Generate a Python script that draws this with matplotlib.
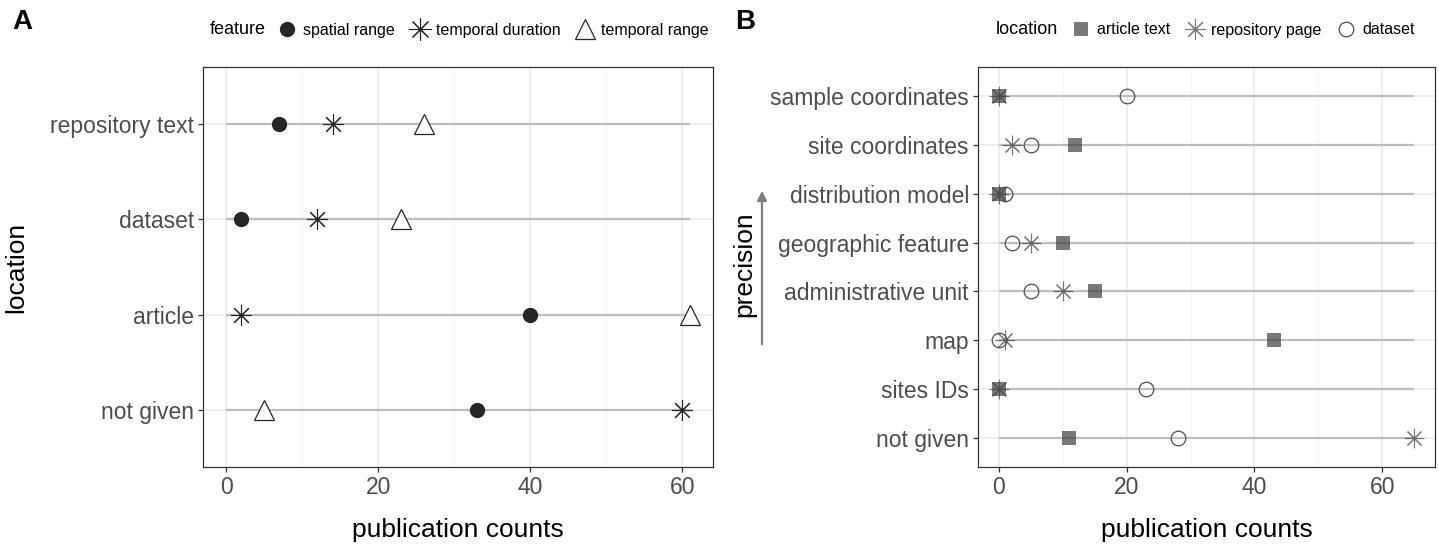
import numpy as np
import matplotlib.pyplot as plt
from matplotlib.lines import Line2D
from matplotlib.patches import FancyArrowPatch

plt.rcParams['font.family'] = ['Liberation Sans', 'DejaVu Sans']

# panel A data
a_locations = ['not given', 'article', 'dataset', 'repository text']
a_spatial_range = [33, 40, 2, 7]
a_temporal_duration = [60, 2, 12, 14]
a_temporal_range = [5, 61, 23, 26]

# panel B data
b_precision = ['not given', 'sites IDs', 'map', 'administrative unit',
               'geographic feature', 'distribution model',
               'site coordinates', 'sample coordinates']
b_article_text = [11, 0, 43, 15, 10, 0, 12, 0]
b_repository_page = [65, 0, 1, 10, 5, 0, 2, 0]
b_dataset = [28, 23, 0, 5, 2, 1, 5, 20]

W, H = 1439, 546
fig = plt.figure(figsize=(W / 100, H / 100), dpi=100)

def px_axes(l, r, t, b):
    return fig.add_axes([l / W, 1 - b / H, (r - l) / W, (b - t) / H])

star = (8, 2, 0)
tick_col = '#4d4d4d'

def style(ax, ncat, xmax):
    ax.set_xlim(-0.05 * xmax, 1.05 * xmax)
    ax.set_ylim(0.4, ncat + 0.6)
    ax.set_xticks([0, 20, 40, 60])
    ax.set_xticks([10, 30, 50], minor=True)
    ax.grid(which='major', color='#ebebeb', lw=1.1, zorder=0)
    ax.grid(which='minor', axis='x', color='#f2f2f2', lw=0.6, zorder=0)
    ax.set_axisbelow(True)
    for s in ax.spines.values():
        s.set_color('#333333')
        s.set_linewidth(0.9)
    ax.tick_params(axis='both', which='major', length=3.5, width=0.9, color='#333333',
                   labelsize=16.5, labelcolor=tick_col, pad=3)
    ax.tick_params(axis='x', which='minor', length=0)
    ax.set_xlabel('publication counts', fontsize=19, labelpad=14)

# ---- panel A
axA = px_axes(203, 713, 67, 467)
ya = np.arange(1, len(a_locations) + 1)
amax = max(a_spatial_range + a_temporal_duration + a_temporal_range)
axA.hlines(ya, 0, amax, color='#bebebe', lw=1.6, zorder=1)
axA.plot(a_spatial_range, ya, 'o', ms=10, color='#262626', mec='#262626', ls='none', zorder=3)
axA.plot(a_temporal_duration, ya, marker=star, ms=15, color='#262626', mew=0.8, ls='none', zorder=3)
axA.plot(a_temporal_range, ya, '^', ms=14, mfc='white', mec='#262626', mew=0.9, ls='none', zorder=3)
axA.set_yticks(ya)
axA.set_yticklabels(a_locations)
style(axA, len(a_locations), amax)
axA.set_ylabel('location', fontsize=19, labelpad=16)

# ---- panel B
axB = px_axes(978, 1435, 67, 467)
yb = np.arange(1, len(b_precision) + 1)
bmax = max(b_article_text + b_repository_page + b_dataset)
axB.hlines(yb, 0, bmax, color='#bebebe', lw=1.6, zorder=1)
axB.plot(b_article_text, yb, 's', ms=9.5, color='#404040', alpha=0.7, mew=0, ls='none', zorder=3)
axB.plot(b_repository_page, yb, marker=star, ms=14, color='#404040', alpha=0.7, mew=0.8, ls='none', zorder=4)
axB.plot(b_dataset, yb, 'o', ms=10.5, mfc='none', mec='#4d4d4d', mew=0.9, ls='none', zorder=5)
axB.set_yticks(yb)
axB.set_yticklabels(b_precision)
style(axB, len(b_precision), bmax)

# precision arrow
fig.patches.append(FancyArrowPatch(
    (762 / W, 1 - 347 / H), (762 / W, 1 - 188 / H), transform=fig.transFigure,
    arrowstyle='-|>', mutation_scale=14, color='#808080', lw=1.6))
fig.text(744 / W, 1 - 264 / H, 'precision', rotation=90, fontsize=19,
         ha='center', va='center')

# panel letters
fig.text(12 / W, 1 - 22 / H, 'A', fontsize=20, fontweight='bold', va='center')
fig.text(735 / W, 1 - 22 / H, 'B', fontsize=20, fontweight='bold', va='center')

# legends
leg_kw = dict(ncol=3, loc='center left', frameon=False, fontsize=11.5,
              handlelength=0.8, handletextpad=0.6, columnspacing=1.15,
              borderaxespad=0, borderpad=0)

fig.text(210 / W, 1 - 30 / H, 'feature', fontsize=13, va='center')
hA = [Line2D([], [], ls='none', marker='o', ms=10, color='#262626'),
      Line2D([], [], ls='none', marker=star, ms=16, color='#262626', mew=0.8),
      Line2D([], [], ls='none', marker='^', ms=14, mfc='white', mec='#262626', mew=0.9)]
fig.legend(hA, ['spatial range', 'temporal duration', 'temporal range'],
           bbox_to_anchor=(281 / W, 1 - 30 / H), **leg_kw)

fig.text(996 / W, 1 - 30 / H, 'location', fontsize=13, va='center')
hB = [Line2D([], [], ls='none', marker='s', ms=9.5, color='#404040', alpha=0.7, mew=0),
      Line2D([], [], ls='none', marker=star, ms=15, color='#404040', alpha=0.7, mew=0.8),
      Line2D([], [], ls='none', marker='o', ms=10.5, mfc='none', mec='#4d4d4d', mew=0.9)]
fig.legend(hB, ['article text', 'repository page', 'dataset'],
           bbox_to_anchor=(1075 / W, 1 - 30 / H), **leg_kw)

fig.savefig('out.png', dpi=100, facecolor='white')
